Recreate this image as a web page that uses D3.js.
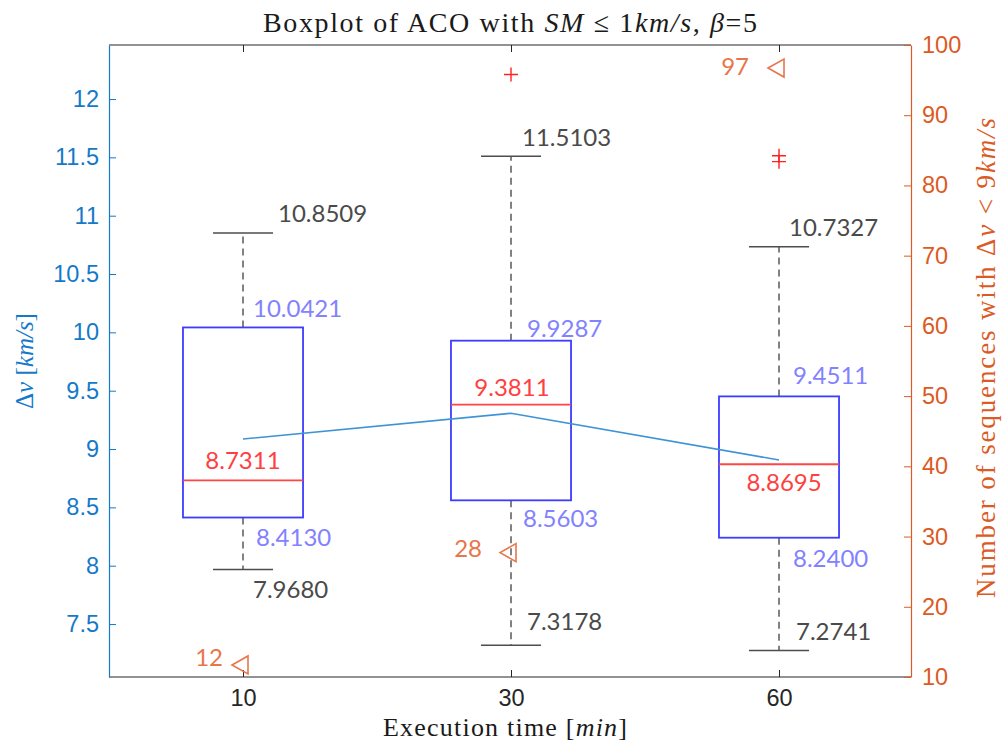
<!DOCTYPE html>
<html>
<head>
<meta charset="utf-8">
<script src="https://cdn.jsdelivr.net/npm/d3@7"></script>
<style>
  html, body { margin: 0; padding: 0; background: #fff; }
  svg { display: block; }
</style>
</head>
<body>
<div id="chart"></div>
<script>
// boxplot values (km/s)
const categories = ["10", "30", "60"];
const whiskerLow = [7.968, 7.3178, 7.2741];
const q1 = [8.413, 8.5603, 8.24];
const medians = [8.7311, 9.3811, 8.8695];
const q3 = [10.0421, 9.9287, 9.4511];
const whiskerHigh = [10.8509, 11.5103, 10.7327];
const outliers = [[], [12.21], [11.514, 11.463]];
const means = [9.086, 9.306, 8.906];
// right axis: number of sequences with dv < 9 km/s
const counts = [12, 28, 97];
const leftTicks = [7.5, 8, 8.5, 9, 9.5, 10, 10.5, 11, 11.5, 12];
const rightTicks = [10, 20, 30, 40, 50, 60, 70, 80, 90, 100];

const W = 1002, H = 755;
const PLOT = { left: 109, right: 911, top: 45, bottom: 677 };

const C = {
  left: "#1479c9",
  right: "#dc5a24",
  frame: "#262626",
  box: "#3c3cff",
  median: "#ff4545",
  whisker: "#4d4d4d",
  mean: "#3d93d6",
  outlier: "#ff2020",
  lblGray: "#4a4a4a",
  lblBlue: "#8282ff",
  lblRed: "#ff4040",
  lblOrange: "#e8764a",
};

// per-label nudges (px) so annotations sit where the figure put them
const NUDGE = {
  hi: { dx: [35, 11, 10], dy: [-11, -10, -11] },
  q3: { dx: [10, 16, 14], dy: [-10, -4, -12] },
  med: { dx: [0, 1, 5], dy: [-11, -9, 27] },
  q1: { dx: [13, 12, 14], dy: [28, 27, 29] },
  lo: { dx: [10, 16, 17], dy: [29, -15, -10] },
  cnt: { dx: [-20, -29, -30], dy: [3, 6, 9] },
};

const svg = d3.select("#chart").append("svg")
  .attr("width", W).attr("height", H);

const x = d3.scaleLinear().domain([0.5, 3.4925]).range([PLOT.left, PLOT.right]);
const yL = d3.scaleLinear().domain([7.046, 12.463]).range([PLOT.bottom, PLOT.top]);
const yR = d3.scaleLinear().domain([10, 100]).range([PLOT.bottom, PLOT.top]);

const boxHalf = 0.224, capHalf = 0.112;
const data = categories.map((c, i) => ({
  i, c, pos: i + 1,
  lo: whiskerLow[i], q1: q1[i], med: medians[i], q3: q3[i], hi: whiskerHigh[i],
  out: outliers[i], mean: means[i], count: counts[i],
}));

// frame (top / bottom)
const frame = svg.append("g").attr("stroke", C.frame).attr("stroke-width", 1);
frame.append("line").attr("x1", PLOT.left).attr("x2", PLOT.right).attr("y1", PLOT.top).attr("y2", PLOT.top);
frame.append("line").attr("x1", PLOT.left).attr("x2", PLOT.right).attr("y1", PLOT.bottom).attr("y2", PLOT.bottom);

// x axis ticks (bottom + top, inward)
const xAxis = svg.append("g").attr("transform", `translate(0,${PLOT.bottom})`)
  .call(d3.axisBottom(x).tickValues([1, 2, 3]).tickFormat((d) => categories[d - 1])
    .tickSizeInner(-7).tickSizeOuter(0).tickPadding(12));
xAxis.select(".domain").remove();
xAxis.selectAll("line").attr("stroke", C.frame);
xAxis.selectAll("text").attr("fill", C.frame)
  .style("font-family", "'Liberation Sans', Arial, sans-serif").style("font-size", "23.5px");

const xTop = svg.append("g").attr("transform", `translate(0,${PLOT.top})`)
  .call(d3.axisTop(x).tickValues([1, 2, 3]).tickFormat("").tickSizeInner(-7).tickSizeOuter(0));
xTop.select(".domain").remove();
xTop.selectAll("line").attr("stroke", C.frame);

// left axis
const leftAxis = svg.append("g").attr("transform", `translate(${PLOT.left},0)`)
  .call(d3.axisLeft(yL).tickValues(leftTicks).tickFormat(d3.format("")).tickSizeInner(-7).tickSizeOuter(0).tickPadding(10));
leftAxis.select(".domain").attr("stroke", C.left).attr("stroke-width", 1.2);
leftAxis.selectAll("line").attr("stroke", C.left);
leftAxis.selectAll("text").attr("fill", C.left)
  .style("font-family", "'Liberation Sans', Arial, sans-serif").style("font-size", "23.5px");

// right axis
const rightAxis = svg.append("g").attr("transform", `translate(${PLOT.right},0)`)
  .call(d3.axisRight(yR).tickValues(rightTicks).tickSizeInner(-7).tickSizeOuter(0).tickPadding(11));
rightAxis.select(".domain").attr("stroke", C.right).attr("stroke-width", 1.2);
rightAxis.selectAll("line").attr("stroke", C.right);
rightAxis.selectAll("text").attr("fill", C.right)
  .style("font-family", "'Liberation Sans', Arial, sans-serif").style("font-size", "23.5px");

// whiskers
const g = svg.append("g");
g.selectAll(".wh-up").data(data).enter().append("line")
  .attr("x1", (d) => x(d.pos)).attr("x2", (d) => x(d.pos))
  .attr("y1", (d) => yL(d.q3)).attr("y2", (d) => yL(d.hi))
  .attr("stroke", C.whisker).attr("stroke-width", 1.4).attr("stroke-dasharray", "7,5");
g.selectAll(".wh-dn").data(data).enter().append("line")
  .attr("x1", (d) => x(d.pos)).attr("x2", (d) => x(d.pos))
  .attr("y1", (d) => yL(d.q1)).attr("y2", (d) => yL(d.lo))
  .attr("stroke", C.whisker).attr("stroke-width", 1.4).attr("stroke-dasharray", "7,5");
["hi", "lo"].forEach((k) => {
  g.selectAll(".cap-" + k).data(data).enter().append("line")
    .attr("x1", (d) => x(d.pos - capHalf)).attr("x2", (d) => x(d.pos + capHalf))
    .attr("y1", (d) => yL(d[k])).attr("y2", (d) => yL(d[k]))
    .attr("stroke", C.whisker).attr("stroke-width", 1.5);
});

// boxes
g.selectAll(".box").data(data).enter().append("rect")
  .attr("x", (d) => x(d.pos - boxHalf)).attr("width", (d) => x(d.pos + boxHalf) - x(d.pos - boxHalf))
  .attr("y", (d) => yL(d.q3)).attr("height", (d) => yL(d.q1) - yL(d.q3))
  .attr("fill", "none").attr("stroke", C.box).attr("stroke-width", 1.8);
g.selectAll(".med").data(data).enter().append("line")
  .attr("x1", (d) => x(d.pos - boxHalf)).attr("x2", (d) => x(d.pos + boxHalf))
  .attr("y1", (d) => yL(d.med)).attr("y2", (d) => yL(d.med))
  .attr("stroke", C.median).attr("stroke-width", 1.8);

// outliers
const outPts = data.flatMap((d) => d.out.map((v) => ({ pos: d.pos, v })));
g.selectAll(".out").data(outPts).enter().append("path")
  .attr("d", (d) => {
    const px = x(d.pos), py = yL(d.v), s = 7;
    return `M${px - s},${py}H${px + s}M${px},${py - s}V${py + s}`;
  })
  .attr("stroke", C.outlier).attr("stroke-width", 1.4).attr("fill", "none");

// mean line
g.append("path").datum(data)
  .attr("d", d3.line().x((d) => x(d.pos)).y((d) => yL(d.mean)))
  .attr("fill", "none").attr("stroke", C.mean).attr("stroke-width", 1.6);

// count markers (right axis, left-pointing triangles)
g.selectAll(".tri").data(data).enter().append("path")
  .attr("d", (d) => {
    const px = x(d.pos), py = yR(d.count);
    return `M${px - 11},${py + 2}L${px + 5},${py - 7}L${px + 5},${py + 11}Z`;
  })
  .attr("fill", "none").attr("stroke", C.lblOrange).attr("stroke-width", 1.6);

// annotations
const ann = svg.append("g").style("font-family", "Lato, 'Open Sans', sans-serif").style("font-size", "24px");
const fmt = d3.format(".4f");
function labels(key, val, color, anchor, text) {
  ann.selectAll(".l-" + key).data(data).enter().append("text")
    .attr("x", (d) => x(d.pos) + NUDGE[key].dx[d.i])
    .attr("y", (d) => val(d) + NUDGE[key].dy[d.i])
    .attr("text-anchor", anchor).attr("fill", color)
    .text(text);
}
labels("hi", (d) => yL(d.hi), C.lblGray, "start", (d) => fmt(d.hi));
labels("q3", (d) => yL(d.q3), C.lblBlue, "start", (d) => fmt(d.q3));
labels("med", (d) => yL(d.med), C.lblRed, "middle", (d) => fmt(d.med));
labels("q1", (d) => yL(d.q1), C.lblBlue, "start", (d) => fmt(d.q1));
labels("lo", (d) => yL(d.lo), C.lblGray, "start", (d) => fmt(d.lo));
labels("cnt", (d) => yR(d.count), C.lblOrange, "end", (d) => d.count);

// title and axis labels (LaTeX-ish, stretched to the width of the CM original)
const serif = "'Liberation Serif', 'Times New Roman', serif";
function rich(sel, parts, len) {
  parts.forEach(([t, it]) => {
    sel.append("tspan").text(t).style("font-style", it ? "italic" : "normal");
  });
  if (len) sel.attr("textLength", len).attr("lengthAdjust", "spacing");
  return sel;
}
rich(svg.append("text").attr("x", 510).attr("y", 32).attr("text-anchor", "middle")
  .attr("fill", "#1a1a1a").style("font-family", serif).style("font-size", "28px"),
  [["Boxplot of ACO with ", false], ["SM", true], [" \u2264 1", false], ["km/s", true], [", ", false], ["\u03b2", true], ["=5", false]], 494);

rich(svg.append("text").attr("x", 505).attr("y", 736).attr("text-anchor", "middle")
  .attr("fill", "#1a1a1a").style("font-family", serif).style("font-size", "26px"),
  [["Execution time [", false], ["min", true], ["]", false]], 244);

rich(svg.append("text").attr("transform", "translate(33,361) rotate(-90)").attr("text-anchor", "middle")
  .attr("fill", C.left).style("font-family", serif).style("font-size", "25px"),
  [["\u0394", false], ["v", true], [" [", false], ["km/s", true], ["]", false]]);

rich(svg.append("text").attr("transform", "translate(995,358) rotate(-90)").attr("text-anchor", "middle")
  .attr("fill", C.right).style("font-family", serif).style("font-size", "27px"),
  [["Number of sequences with \u0394", false], ["v", true], [" < 9", false], ["km/s", true]], 480);
</script>
</body>
</html>
